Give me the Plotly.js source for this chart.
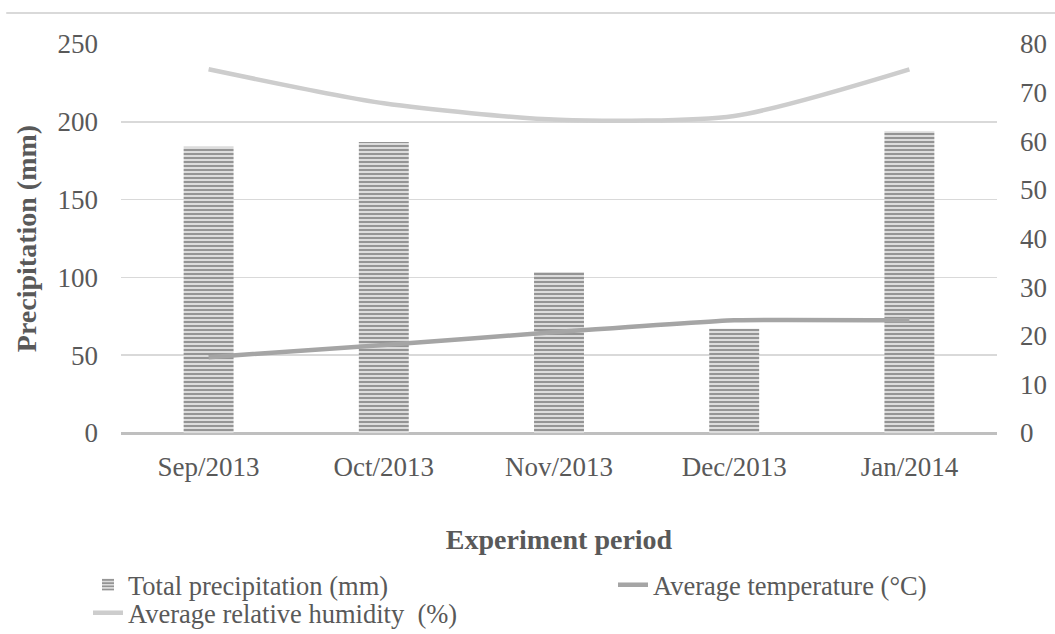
<!DOCTYPE html>
<html>
<head>
<meta charset="utf-8">
<script src="https://cdn.plot.ly/plotly-3.0.1.min.js"></script>
<style>html,body{margin:0;padding:0;background:#fff;}#chart{width:1055px;height:634px;}</style>
</head>
<body>
<div id="chart"></div>
<script>
var months = ["Sep/2013", "Oct/2013", "Nov/2013", "Dec/2013", "Jan/2014"];
var precipitation = [184, 187, 103.5, 67, 194];
var temperature = [15.6, 18.1, 20.8, 23.2, 23.2];
var humidity = [74.8, 67.8, 64.4, 65.2, 74.8];
var leftTicks = [0, 50, 100, 150, 200, 250];
var rightTicks = [0, 10, 20, 30, 40, 50, 60, 70, 80];

var serif = "Liberation Serif, Times New Roman, serif";
var textColor = "#595959";

var traces = [
  {
    type: "bar", name: "Total precipitation (mm)", x: months, y: precipitation,
    width: 0.285, legend: "legend",
    marker: {color: "#d4d4d4", line: {width: 0},
      pattern: {shape: "-", fgcolor: "#8c8c8c", bgcolor: "#dcdcdc", size: 4, solidity: 0.45}},
    hoverinfo: "x+y"
  },
  {
    type: "scatter", mode: "lines", name: "Average temperature (\u00B0C)", x: months, y: temperature,
    yaxis: "y2", legend: "legend2",
    line: {color: "#a5a5a5", width: 4.5, shape: "spline", smoothing: 0.3}
  },
  {
    type: "scatter", mode: "lines", name: "Average relative humidity  (%)", x: months, y: humidity,
    yaxis: "y2", legend: "legend3",
    line: {color: "#cdcdcd", width: 4.5, shape: "spline", smoothing: 0.7}
  }
];

var legendFont = {family: serif, size: 26.5, color: textColor};
function leg(px, py) {
  return {
    orientation: "h", x: px / 1055, xref: "container", y: 1 - py / 634, yref: "container",
    xanchor: "left", yanchor: "top", font: legendFont, itemwidth: 30,
    bgcolor: "rgba(0,0,0,0)"
  };
}

var layout = {
  width: 1055, height: 634,
  margin: {l: 121, r: 58, t: 44, b: 201, pad: 0},
  paper_bgcolor: "#ffffff", plot_bgcolor: "#ffffff",
  font: {family: serif, color: textColor, size: 27},
  showlegend: true,
  bargap: 0.7,
  xaxis: {
    type: "category", showgrid: false, showline: false, zeroline: false, ticks: "",
    tickfont: {family: serif, size: 27, color: textColor}, tickangle: 0,
    ticklabelstandoff: 15,
    title: {text: "<b>Experiment period</b>", font: {family: serif, size: 28, color: textColor}, standoff: 48},
    automargin: false
  },
  yaxis: {
    range: [0, 250], tickvals: leftTicks, showgrid: true, gridcolor: "#d9d9d9", gridwidth: 1.5,
    zeroline: true, zerolinecolor: "#bfbfbf", zerolinewidth: 3,
    showline: false, ticks: "",
    tickfont: {family: serif, size: 27, color: textColor},
    ticklabelstandoff: 22,
    title: {text: "<b>Precipitation (mm)</b>", font: {family: serif, size: 28, color: textColor}, standoff: 12},
    automargin: false
  },
  yaxis2: {
    overlaying: "y", side: "right", range: [0, 80], tickvals: rightTicks,
    showgrid: false, zeroline: false, showline: false, ticks: "",
    tickfont: {family: serif, size: 27, color: textColor},
    ticklabelstandoff: 22,
    automargin: false
  },
  legend: leg(88, 561),
  legend2: leg(613, 561),
  legend3: leg(88, 589),
  shapes: [
    {type: "line", xref: "paper", yref: "paper", x0: -0.131, x1: 1.07, y0: 1.0797, y1: 1.0797,
     line: {color: "#d9d9d9", width: 2}}
  ]
};

Plotly.newPlot("chart", traces, layout, {displayModeBar: false, staticPlot: true});
</script>
</body>
</html>
